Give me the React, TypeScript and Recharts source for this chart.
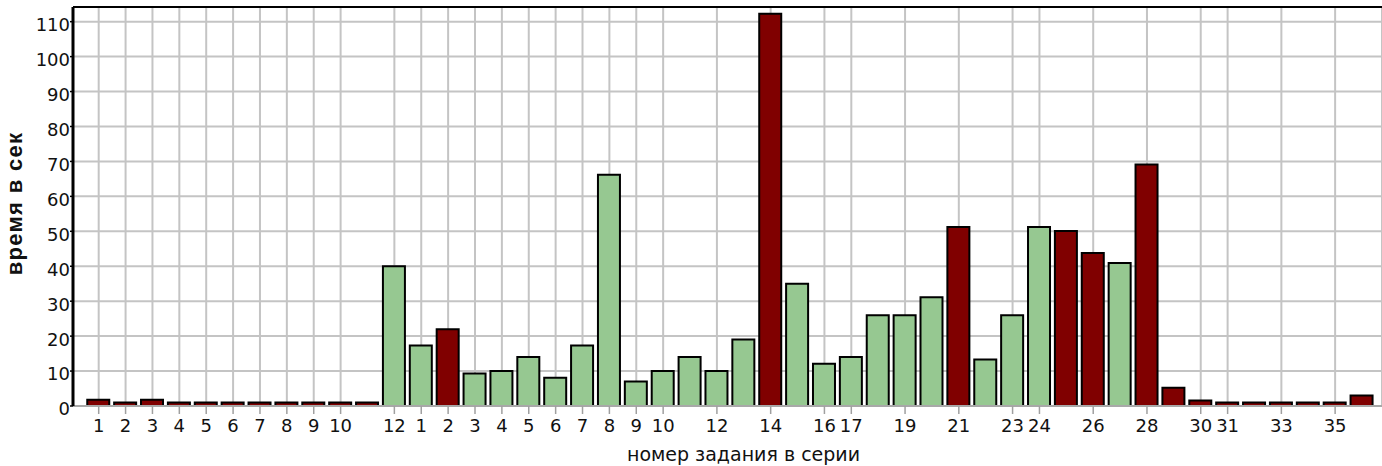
import { BarChart, Bar, Cell, XAxis, YAxis, CartesianGrid, ReferenceLine } from 'recharts';

// Two task series shown back to back: 12 tasks, then 36 tasks.
const taskLabels = [
  '1', '2', '3', '4', '5', '6', '7', '8', '9', '10', '11', '12',
  '1', '2', '3', '4', '5', '6', '7', '8', '9', '10', '11', '12',
  '13', '14', '15', '16', '17', '18', '19', '20', '21', '22', '23', '24',
  '25', '26', '27', '28', '29', '30', '31', '32', '33', '34', '35', '36',
];

// time in seconds per task
const times = [
  1.8, 1, 1.8, 1, 1, 1, 1, 1, 1, 1, 1, 40,
  17.3, 22, 9.3, 10, 14, 8.1, 17.3, 66.2, 7, 10, 14, 10,
  19, 112.3, 35, 12.1, 14, 26, 26, 31.1, 51.2, 13.3, 26, 51.2,
  50.1, 43.8, 40.9, 69.1, 5.2, 1.6, 1, 1, 1, 1, 1, 3,
];

// false = task failed (dark red bar)
const solved = [
  false, false, false, false, false, false, false, false, false, false, false, true,
  true, false, true, true, true, true, true, true, true, true, true, true,
  true, false, true, true, true, true, true, true, false, true, true, true,
  false, false, true, false, false, false, false, false, false, false, false, false,
];

// positions (1-based) that get a tick label
const xTicks = [1, 2, 3, 4, 5, 6, 7, 8, 9, 10, 12, 13, 14, 15, 16, 17, 18, 19, 20, 21, 22, 24, 26, 28, 29, 31, 33, 35, 36, 38, 40, 42, 43, 45, 47];
const yTicks = [0, 10, 20, 30, 40, 50, 60, 70, 80, 90, 100, 110];
const Y_MAX = 114.2;

const GREEN = '#96c891';
const RED = '#800000';
const GRID = '#c4c4c4';
const FONT = '"DejaVu Sans", Verdana, sans-serif';

const data = times.map((t, i) => ({ pos: i + 1, time: t, ok: solved[i] }));

export default function App() {
  return (
    <div style={{ position: 'absolute', left: 0, top: 0, width: 1382, height: 466, background: '#fff' }}>
      <BarChart width={1382} height={466} data={data} margin={{ top: 7, right: 0, bottom: 0, left: 0 }}>
        <CartesianGrid stroke={GRID} strokeWidth={2} />
        <XAxis
          type="number"
          dataKey="pos"
          domain={[0.044, 48.744]}
          allowDataOverflow
          ticks={xTicks}
          interval={0}
          tickFormatter={(v) => taskLabels[Number(v) - 1]}
          tick={{ fontSize: 18, fill: '#111', fontFamily: FONT }}
          tickSize={8}
          tickMargin={5}
          tickLine={{ stroke: '#a0a0a0', strokeWidth: 1.5 }}
          axisLine={{ stroke: '#a8a8a8', strokeWidth: 2 }}
          height={60}
          label={{
            value: 'номер задания в серии',
            position: 'insideBottom',
            offset: 5,
            dx: 16,
            fontSize: 19,
            fill: '#111',
            fontFamily: FONT,
          }}
        />
        <YAxis
          type="number"
          domain={[0, Y_MAX]}
          ticks={yTicks}
          interval={0}
          width={73}
          tick={{ fontSize: 18, fill: '#111', fontFamily: FONT, dy: 3 }}
          tickSize={3}
          tickMargin={0}
          tickLine={{ stroke: '#000', strokeWidth: 1.5 }}
          axisLine={{ stroke: '#000', strokeWidth: 3 }}
          label={{
            content: ({ viewBox }: any) => {
              const cy = viewBox.y + viewBox.height / 2 - 3;
              return (
                <text
                  x={22}
                  y={cy}
                  transform={`rotate(-90, 22, ${cy})`}
                  textAnchor="middle"
                  fontSize={22}
                  fontWeight="bold"
                  letterSpacing={1.3}
                  fontFamily='"Liberation Sans", Arial, sans-serif'
                  fill="#111"
                >
                  время в сек
                </text>
              );
            },
          }}
        />
        <ReferenceLine y={Y_MAX} stroke="#000" strokeWidth={2} />
        <Bar dataKey="time" barSize={22} stroke="#000" strokeWidth={2} isAnimationActive={false}>
          {data.map((d, i) => (
            <Cell key={i} fill={d.ok ? GREEN : RED} />
          ))}
        </Bar>
      </BarChart>
    </div>
  );
}
